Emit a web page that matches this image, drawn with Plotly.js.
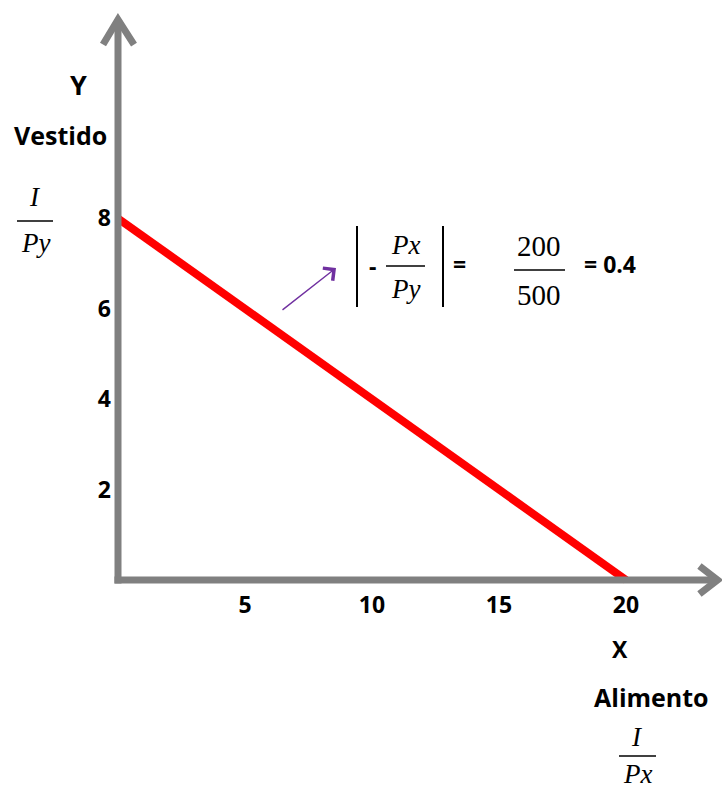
<!DOCTYPE html>
<html>
<head>
<meta charset="utf-8">
<script src="https://cdn.plot.ly/plotly-3.0.1.min.js"></script>
<style>
  body { margin: 0; background: #fff; }
  #chart { width: 722px; height: 789px; }
</style>
</head>
<body>
<div id="chart"></div>
<script>
// budget line I/Px = 20 (alimento), I/Py = 8 (vestido)
const lineX = [0, 20];
const lineY = [8, 0];
const xTicks = [5, 10, 15, 20];
const yTicks = [2, 4, 6, 8];
const xTip = 23.6;   // where the drawn x arrow ends
const yTip = 12.4;   // where the drawn y arrow ends

const W = 722, H = 789;
// pixel layout of the original drawing
const ORIGIN_PX = 118, ORIGIN_PY = 580;
const PX_PER_X = 25.4, PX_PER_Y = 45.2;

const GRAY = '#808080';
const TICK = {family: 'Open Sans, sans-serif', size: 23, color: '#000', weight: 'bold'};
const BOLD = {family: 'Open Sans, sans-serif', size: 23, color: '#000', weight: 'bold'};
const MATH = {family: 'Liberation Serif, serif', size: 27, color: '#000', style: 'italic'};
const NUM = {family: 'Liberation Serif, serif', size: 29, color: '#000'};

const label = size => ({family: 'Open Sans, sans-serif', size: size, color: '#000', weight: 'bold'});
const px = v => v / W;
const py = v => 1 - v / H;

function txt(x, y, text, font, xanchor) {
  return {xref: 'paper', yref: 'paper', x: px(x), y: py(y), text: text,
    showarrow: false, font: font, xanchor: xanchor || 'center', yanchor: 'middle'};
}

function bar(x0, x1, y, w) {
  return {type: 'line', xref: 'paper', yref: 'paper',
    x0: px(x0), x1: px(x1), y0: py(y), y1: py(y), line: {color: '#000', width: w || 1.5}};
}

// open chevron drawn in pixels around an anchor in data units
function chevron(ax, ay, path) {
  return {type: 'path', xref: 'x', yref: 'y', xsizemode: 'pixel', ysizemode: 'pixel',
    xanchor: ax, yanchor: ay, path: path, line: {color: GRAY, width: 7}};
}

const traces = [{
  x: lineX,
  y: lineY,
  type: 'scatter',
  mode: 'lines',
  line: {color: '#ff0000', width: 8},
  hoverinfo: 'skip',
}];

const annotations = [
  // purple pointer to the slope
  {xref: 'paper', yref: 'paper', x: px(336), y: py(268), ax: -55, ay: 43,
    showarrow: true, arrowhead: 4, arrowsize: 2.2, arrowwidth: 1.4, arrowcolor: '#7030a0', text: ''},

  txt(78, 85, 'Y', label(27)),
  txt(60, 135, 'Vestido', label(25)),
  txt(35, 197, 'I', MATH),
  txt(35, 243, 'Py', MATH),

  txt(620, 649, 'X', label(23)),
  txt(651, 697, 'Alimento', label(25)),
  txt(637, 737, 'I', MATH),
  txt(637, 774, 'Px', MATH),

  txt(373, 266, '-', BOLD),
  txt(405, 245, 'Px', MATH),
  txt(405, 289, 'Py', MATH),
  txt(459, 264, '=', BOLD),
  txt(539, 246, '200', NUM),
  txt(539, 295, '500', NUM),
  txt(582, 264, '=&nbsp;0.4', BOLD, 'left'),
];

const shapes = [
  // gray axes
  {type: 'line', xref: 'x', yref: 'y', x0: 0, x1: 0, y0: -0.08, y1: yTip,
    line: {color: GRAY, width: 7}},
  {type: 'line', xref: 'x', yref: 'y', x0: -0.14, x1: xTip, y0: 0, y1: 0,
    line: {color: GRAY, width: 7}},
  chevron(0, yTip, 'M-15,-25 L0,0 L16,-25'),
  chevron(xTip, 0, 'M-18,14 L0,0 L-18,-14'),

  bar(17, 53, 221),
  bar(619, 656, 756),
  bar(386, 425, 266),
  bar(514, 565, 270),
  // absolute value bars
  {type: 'line', xref: 'paper', yref: 'paper', x0: px(357), x1: px(357), y0: py(226), y1: py(307),
    line: {color: '#000', width: 2}},
  {type: 'line', xref: 'paper', yref: 'paper', x0: px(443), x1: px(443), y0: py(226), y1: py(307),
    line: {color: '#000', width: 2}},
];

const layout = {
  width: W,
  height: H,
  margin: {l: 0, r: 0, t: 0, b: 0},
  paper_bgcolor: '#fff',
  plot_bgcolor: '#fff',
  showlegend: false,
  xaxis: {
    range: [-ORIGIN_PX / PX_PER_X, (W - ORIGIN_PX) / PX_PER_X],
    anchor: 'free',
    position: 1 - ORIGIN_PY / H,
    tickvals: xTicks,
    ticks: '',
    ticklabelstandoff: 9,
    tickfont: TICK,
    showgrid: false,
    zeroline: false,
    showline: false,
    fixedrange: true,
  },
  yaxis: {
    range: [-(H - ORIGIN_PY) / PX_PER_Y, ORIGIN_PY / PX_PER_Y],
    anchor: 'free',
    position: ORIGIN_PX / W,
    tickvals: yTicks,
    ticks: '',
    ticklabelstandoff: 7,
    tickfont: TICK,
    showgrid: false,
    zeroline: false,
    showline: false,
    fixedrange: true,
  },
  annotations: annotations,
  shapes: shapes,
};

Plotly.newPlot('chart', traces, layout, {staticPlot: true, displayModeBar: false});
</script>
</body>
</html>
